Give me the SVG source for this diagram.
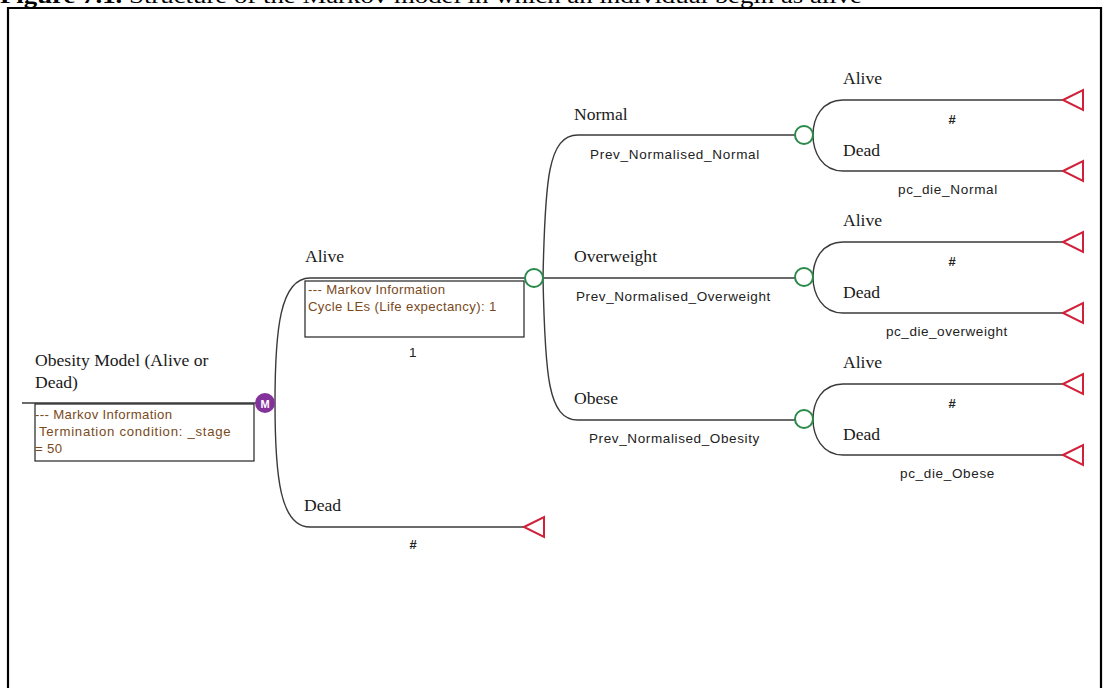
<svg xmlns="http://www.w3.org/2000/svg" width="1104" height="688" viewBox="0 0 1104 688">
<defs>
<style>
.frame{stroke:#000;stroke-width:2.2;fill:none}
.ln{stroke:#3a3a3a;stroke-width:1.4;fill:none}
.box{stroke:#222;stroke-width:1.2;fill:#fff}
.lbl{font-family:"Liberation Serif",serif;font-size:17.6px;fill:#1a1a1a}
.sm{font-family:"Liberation Sans",Arial,sans-serif;font-size:13.5px;letter-spacing:0.7px;fill:#222}
.hash{font-family:"Liberation Sans",Arial,sans-serif;font-size:13px;font-weight:bold;fill:#222}
.info{font-family:"Liberation Sans",Arial,sans-serif;font-size:13.2px;letter-spacing:0.35px;fill:#7a4a1c}
.chance{stroke:#2a8a4a;stroke-width:2;fill:#fff}
.term{stroke:#d0203a;stroke-width:2;fill:#fff;stroke-linejoin:miter}
.cap{font-family:"Liberation Serif",serif;font-size:21px;fill:#000}
</style>
<polygon id="tri" points="0,0 20,-10 20,10"/>
</defs>
<rect width="1104" height="688" fill="#fff"/>
<text class="cap" x="0" y="3" textLength="862" lengthAdjust="spacingAndGlyphs"><tspan font-weight="bold">Figure 7.1.</tspan> Structure of the Markov model in which an individual begin as alive</text>
<path class="frame" d="M8,688 V8 H1101 V688"/>

<g id="connectors">
<line class="ln" x1="22" y1="403" x2="258" y2="403"/>
<path class="ln" d="M275,403 C275,330 280,278 310,278 H525"/>
<path class="ln" d="M275,403 C275,476 280,527 310,527 H524"/>
<path class="ln" d="M543,278 C545,180 548,135 578,135 H795"/>
<line class="ln" x1="543" y1="278" x2="795" y2="278"/>
<path class="ln" d="M543,278 C545,376 548,420 578,420 H795"/>
<path class="ln" d="M843,100 C822,100 813,118 813,135 C813,152 822,171 843,171"/>
<path class="ln" d="M843,100 H1063 M843,171 H1063"/>
<path class="ln" d="M843,242 C822,242 813,260 813,277 C813,294 822,313 843,313"/>
<path class="ln" d="M843,242 H1063 M843,313 H1063"/>
<path class="ln" d="M843,384 C822,384 813,402 813,419 C813,436 822,455 843,455"/>
<path class="ln" d="M843,384 H1063 M843,455 H1063"/>
</g>

<g id="root">
<text class="lbl" x="35" y="366">Obesity Model (Alive or</text>
<text class="lbl" x="35" y="388">Dead)</text>
<rect class="box" x="35" y="404" width="219" height="57"/>
<text class="info" x="35" y="419">--- Markov Information</text>
<text class="info" x="39" y="436" textLength="192">Termination condition: _stage</text>
<text class="info" x="35" y="453">= 50</text>
</g>

<g id="markov-node">
<circle cx="265" cy="403" r="10" fill="#84329b"/>
<text x="265" y="407.5" text-anchor="middle" font-family="Liberation Sans,Arial,sans-serif" font-size="11" font-weight="bold" fill="#fff">M</text>
</g>

<g id="alive">
<text class="lbl" x="305" y="262">Alive</text>
<rect class="box" x="305" y="281" width="219" height="56"/>
<text class="info" x="308" y="294">--- Markov Information</text>
<text class="info" x="308" y="311">Cycle LEs (Life expectancy): 1</text>
<text class="sm" x="413" y="357" text-anchor="middle">1</text>
<circle class="chance" cx="534" cy="278" r="9"/>
</g>

<g id="dead">
<text class="lbl" x="304" y="511">Dead</text>
<text class="hash" x="413" y="549" text-anchor="middle">#</text>
<use href="#tri" class="term" x="524" y="527"/>
</g>

<g id="normal">
<text class="lbl" x="574" y="120">Normal</text>
<text class="sm" x="590" y="159" textLength="170">Prev_Normalised_Normal</text>
<circle class="chance" cx="804" cy="135" r="9"/>
</g>
<g id="normal-alive">
<text class="lbl" x="843" y="84">Alive</text>
<text class="hash" x="952" y="124" text-anchor="middle">#</text>
<use href="#tri" class="term" x="1063" y="100"/>
</g>
<g id="normal-dead">
<text class="lbl" x="843" y="156">Dead</text>
<text class="sm" x="898" y="194" textLength="100">pc_die_Normal</text>
<use href="#tri" class="term" x="1063" y="171"/>
</g>

<g id="overweight">
<text class="lbl" x="574" y="262">Overweight</text>
<text class="sm" x="576" y="301" textLength="195">Prev_Normalised_Overweight</text>
<circle class="chance" cx="804" cy="277" r="9"/>
</g>
<g id="overweight-alive">
<text class="lbl" x="843" y="226">Alive</text>
<text class="hash" x="952" y="266" text-anchor="middle">#</text>
<use href="#tri" class="term" x="1063" y="242"/>
</g>
<g id="overweight-dead">
<text class="lbl" x="843" y="298">Dead</text>
<text class="sm" x="886" y="336" textLength="122">pc_die_overweight</text>
<use href="#tri" class="term" x="1063" y="313"/>
</g>

<g id="obese">
<text class="lbl" x="574" y="404">Obese</text>
<text class="sm" x="589" y="443" textLength="171">Prev_Normalised_Obesity</text>
<circle class="chance" cx="804" cy="419" r="9"/>
</g>
<g id="obese-alive">
<text class="lbl" x="843" y="368">Alive</text>
<text class="hash" x="952" y="408" text-anchor="middle">#</text>
<use href="#tri" class="term" x="1063" y="384"/>
</g>
<g id="obese-dead">
<text class="lbl" x="843" y="440">Dead</text>
<text class="sm" x="900" y="478" textLength="95">pc_die_Obese</text>
<use href="#tri" class="term" x="1063" y="455"/>
</g>
</svg>
